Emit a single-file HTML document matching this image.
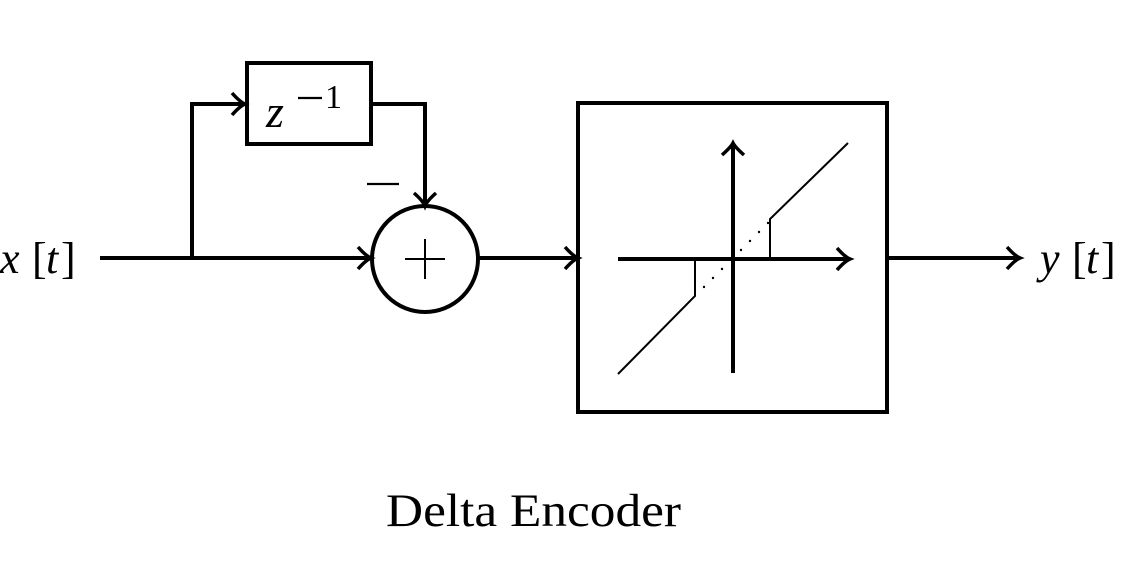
<!DOCTYPE html>
<html><head><meta charset="utf-8"><style>
html,body{margin:0;padding:0;background:#fff;}
svg{display:block}
.m{font-family:"Liberation Serif","DejaVu Serif",serif;font-style:italic;}
.r{font-family:"Liberation Serif","DejaVu Serif",serif;}
</style></head><body>
<svg width="1126" height="571" viewBox="0 0 1126 571" xmlns="http://www.w3.org/2000/svg">
<g fill="none" stroke="#000" stroke-width="4" stroke-linecap="butt" stroke-linejoin="miter">
<line x1="100" y1="258" x2="370" y2="258"/>
<polyline points="192,258 192,104 244,104"/>
<rect x="247" y="63" width="124" height="81"/>
<polyline points="371,104 425,104 425,203"/>
<circle cx="425" cy="259" r="53"/>
<line x1="478" y1="258" x2="576" y2="258"/>
<rect x="578" y="103" width="309" height="309"/>
<line x1="887" y1="258" x2="1018" y2="258"/>
<line x1="618" y1="259" x2="848" y2="259"/>
<line x1="733" y1="373" x2="733" y2="146"/>
<path d="M232,93 Q240,102 245,104 Q240,106 232,115" stroke-width="3.5"/>
<path d="M358,247 Q366,256 371,258 Q366,260 358,269" stroke-width="3.5"/>
<path d="M565,247 Q573,256 578,258 Q573,260 565,269" stroke-width="3.5"/>
<path d="M1007,247 Q1015,256 1020,258 Q1015,260 1007,269" stroke-width="3.5"/>
<path d="M837,248 Q845,257 850,259 Q845,261 837,270" stroke-width="3.5"/>
<path d="M414,193 Q423,201 425,206 Q427,201 436,193" stroke-width="3.5"/>
<path d="M722,155 Q731,147 733,143 Q735,147 744,155" stroke-width="3.5"/>
</g>
<g fill="none" stroke="#000" stroke-width="2">
<polyline points="618,374 695,296 695,259"/>
<polyline points="770,259 770,219 848,143"/>
</g>
<g fill="#000">
<circle cx="704" cy="287" r="1.2"/><circle cx="713" cy="278" r="1.2"/><circle cx="722" cy="269" r="1.2"/>
<circle cx="741" cy="250" r="1.2"/><circle cx="750" cy="241" r="1.2"/><circle cx="759" cy="232" r="1.2"/><circle cx="768" cy="223" r="1.2"/>
</g>
<line x1="405" y1="259" x2="445" y2="259" stroke="#000" stroke-width="2"/>
<line x1="425" y1="239" x2="425" y2="279" stroke="#000" stroke-width="2"/>
<line x1="367" y1="184" x2="399" y2="184" stroke="#000" stroke-width="2.2"/>
<text x="266" y="127" class="m" font-size="46">z</text>
<line x1="298" y1="98" x2="322" y2="98" stroke="#000" stroke-width="2.2"/>
<text x="325" y="108" class="r" font-size="34">1</text>
<text x="0" y="273" class="m" font-size="44">x</text>
<text x="32" y="273" class="r" font-size="44">[</text>
<text x="46" y="273" class="m" font-size="44">t</text>
<text x="61" y="273" class="r" font-size="44">]</text>
<text x="1040" y="273" class="m" font-size="44">y</text>
<text x="1072" y="273" class="r" font-size="44">[</text>
<text x="1086" y="273" class="m" font-size="44">t</text>
<text x="1101" y="273" class="r" font-size="44">]</text>
<text x="386" y="526" class="r" font-size="47" textLength="295" lengthAdjust="spacingAndGlyphs">Delta Encoder</text>
</svg>
</body></html>
